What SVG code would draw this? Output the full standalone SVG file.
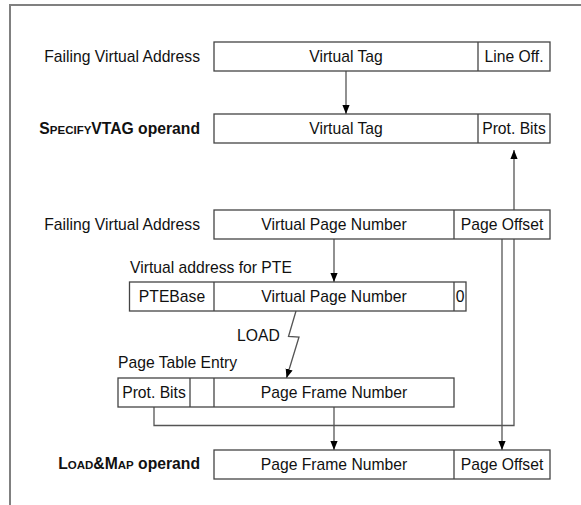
<svg xmlns="http://www.w3.org/2000/svg" width="581" height="505" viewBox="0 0 581 505">
<defs>
<style>
.frame{stroke:#808080;stroke-width:2;fill:none}
.box{fill:#fff;stroke:#444;stroke-width:1.3}
.div{stroke:#444;stroke-width:1.3}
.con{fill:none;stroke:#555;stroke-width:1.3}
text{font-family:"Liberation Sans",Arial,sans-serif;font-size:15.7px;fill:#111}
.c{text-anchor:middle}
.r{text-anchor:end}
.b{font-weight:bold}
.sc{font-size:11.5px}
</style>
<marker id="ah" viewBox="0 0 10 10" refX="10" refY="5" markerWidth="9" markerHeight="9" markerUnits="userSpaceOnUse" orient="auto">
<path d="M0,1 L10,5 L0,9 Z" fill="#000"/>
</marker>
</defs>
<rect width="581" height="505" fill="#fff"/>
<path class="frame" d="M10,505 V5 H581"/>
<g id="connectors">
<line class="con" x1="346" y1="71" x2="346" y2="114" marker-end="url(#ah)"/>
<line class="con" x1="334" y1="239" x2="334" y2="282" marker-end="url(#ah)"/>
<path class="con" d="M296,311 L288.5,336.5 L299,337 L286.5,378" marker-end="url(#ah)"/>
<path class="con" d="M154,407 V425.5 H514 V150" marker-end="url(#ah)"/>
<line class="con" x1="334" y1="407" x2="334" y2="450" marker-end="url(#ah)"/>
<line class="con" x1="502" y1="239" x2="502" y2="450" marker-end="url(#ah)"/>
<text x="237" y="341">LOAD</text>
</g>
<g id="row1">
<text class="r" x="200" y="62">Failing Virtual Address</text>
<rect class="box" x="214" y="42" width="336" height="29"/>
<line class="div" x1="478" y1="42" x2="478" y2="71"/>
<text class="c" x="346" y="62">Virtual Tag</text>
<text class="c" x="514" y="62">Line Off.</text>
</g>
<g id="row2">
<text class="r b" x="200" y="134">S<tspan class="sc">PECIFY</tspan>VTAG operand</text>
<rect class="box" x="214" y="114" width="336" height="29"/>
<line class="div" x1="478" y1="114" x2="478" y2="143"/>
<text class="c" x="346" y="134">Virtual Tag</text>
<text class="c" x="514" y="134">Prot. Bits</text>
</g>
<g id="row3">
<text class="r" x="200" y="230">Failing Virtual Address</text>
<rect class="box" x="214" y="210" width="336" height="29"/>
<line class="div" x1="454" y1="210" x2="454" y2="239"/>
<text class="c" x="334" y="230">Virtual Page Number</text>
<text class="c" x="502" y="230">Page Offset</text>
</g>
<g id="pte">
<text x="130" y="273">Virtual address for PTE</text>
<rect class="box" x="129.5" y="282" width="336.5" height="29"/>
<line class="div" x1="214" y1="282" x2="214" y2="311"/>
<line class="div" x1="454" y1="282" x2="454" y2="311"/>
<text class="c" x="172" y="302">PTEBase</text>
<text class="c" x="334" y="302">Virtual Page Number</text>
<text class="c" x="460" y="302">0</text>
</g>
<g id="entry">
<text x="118" y="368">Page Table Entry</text>
<rect class="box" x="118" y="378" width="336" height="29"/>
<line class="div" x1="190" y1="378" x2="190" y2="407"/>
<line class="div" x1="214" y1="378" x2="214" y2="407"/>
<text class="c" x="154" y="398">Prot. Bits</text>
<text class="c" x="334" y="398">Page Frame Number</text>
</g>
<g id="loadmap">
<text class="r b" x="200" y="469">L<tspan class="sc">OAD</tspan>&amp;M<tspan class="sc">AP</tspan> operand</text>
<rect class="box" x="214" y="450" width="336" height="29"/>
<line class="div" x1="454" y1="450" x2="454" y2="479"/>
<text class="c" x="334" y="470">Page Frame Number</text>
<text class="c" x="502" y="470">Page Offset</text>
</g>
</svg>
